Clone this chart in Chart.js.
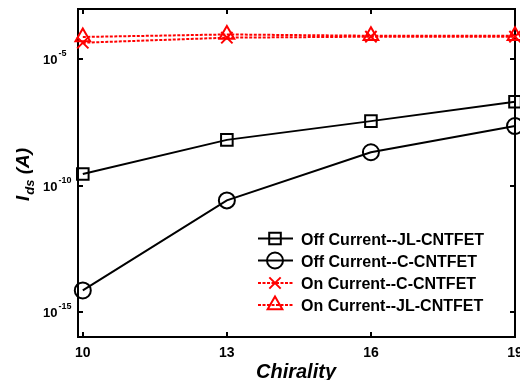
<!DOCTYPE html>
<html><head><meta charset="utf-8">
<script src="https://cdn.jsdelivr.net/npm/chart.js@4/dist/chart.umd.min.js"></script>
<style>html,body{margin:0;padding:0;background:#fff;}#wrap{width:520px;height:380px;position:relative}</style>
</head><body><div id="wrap"><canvas id="c" width="520" height="380"></canvas></div>
<script>
const chirality = [10, 13, 16, 19];
const offJL = [2.9e-10, 6.5e-9, 3.6e-8, 2.1e-7];
const offC = [7e-15, 2.6e-11, 2.1e-9, 2.3e-8];
const onC = [4.6e-5, 7.3e-5, 8.0e-5, 8.0e-5];
const onJL = [7.8e-5, 9.8e-5, 8.7e-5, 8.7e-5];
const xTicks = [10, 13, 16, 19];
const yTickExponents = [-5, -10, -15];
const seriesNames = ['Off Current--JL-CNTFET', 'Off Current--C-CNTFET', 'On Current--C-CNTFET', 'On Current--JL-CNTFET'];
const xTitle = 'Chirality';

const FONT = '"Liberation Sans", Arial, sans-serif';
const RED = '#ff0000';
const pts = arr => arr.map((v, i) => ({x: chirality[i], y: v}));

const styles = [
  {color: '#000', dash: [], point: 'rect', r: 8.2},
  {color: '#000', dash: [], point: 'circle', r: 8},
  {color: RED, dash: [3, 1.5], point: 'crossRot', r: 8},
  {color: RED, dash: [3, 1.5], point: 'triangle', r: 8.5}
];
const seriesData = [offJL, offC, onC, onJL];

const datasets = seriesData.map((d, i) => ({
  label: seriesNames[i],
  data: pts(d),
  borderColor: styles[i].color,
  backgroundColor: 'rgba(0,0,0,0)',
  borderWidth: 2,
  borderDash: styles[i].dash,
  pointStyle: styles[i].point,
  pointRadius: styles[i].r,
  pointBorderWidth: 2,
  pointBorderColor: styles[i].color,
  pointBackgroundColor: 'rgba(0,0,0,0)',
  tension: 0,
  clip: false
}));

function drawMarker(ctx, style, x, y, r, color) {
  ctx.save();
  ctx.strokeStyle = color; ctx.lineWidth = 2; ctx.setLineDash([]);
  ctx.beginPath();
  if (style === 'rect') {
    const s = r * Math.SQRT1_2;
    ctx.rect(x - s, y - s, 2 * s, 2 * s);
  } else if (style === 'circle') {
    ctx.arc(x, y, r, 0, Math.PI * 2);
  } else if (style === 'crossRot') {
    const s = r * Math.SQRT1_2;
    ctx.moveTo(x - s, y - s); ctx.lineTo(x + s, y + s);
    ctx.moveTo(x - s, y + s); ctx.lineTo(x + s, y - s);
  } else if (style === 'triangle') {
    ctx.moveTo(x, y - r);
    ctx.lineTo(x + r * Math.sin(Math.PI / 3), y + r * 0.5);
    ctx.lineTo(x - r * Math.sin(Math.PI / 3), y + r * 0.5);
    ctx.closePath();
  }
  ctx.stroke();
  ctx.restore();
}

const framePlugin = {
  id: 'frame',
  beforeDatasetsDraw(chart) {
    const ctx = chart.ctx, ca = chart.chartArea;
    const xs = chart.scales.x, ys = chart.scales.y;
    ctx.save();
    ctx.strokeStyle = '#000'; ctx.lineWidth = 2;
    ctx.strokeRect(ca.left, ca.top, ca.right - ca.left, ca.bottom - ca.top);
    ctx.beginPath();
    xTicks.forEach(v => {
      const px = Math.round(xs.getPixelForValue(v));
      ctx.moveTo(px, ca.bottom); ctx.lineTo(px, ca.bottom - 5);
      ctx.moveTo(px, ca.top); ctx.lineTo(px, ca.top + 5);
    });
    yTickExponents.forEach(e => {
      const py = Math.round(ys.getPixelForValue(Math.pow(10, e)));
      ctx.moveTo(ca.left, py); ctx.lineTo(ca.left + 5, py);
      ctx.moveTo(ca.right, py); ctx.lineTo(ca.right - 5, py);
    });
    ctx.stroke();
    ctx.restore();
  },
  afterDraw(chart) {
    const ctx = chart.ctx;
    const xs = chart.scales.x, ys = chart.scales.y;
    ctx.save();
    ctx.fillStyle = '#000';
    // x tick labels
    ctx.font = 'bold 14px ' + FONT;
    ctx.textAlign = 'center'; ctx.textBaseline = 'alphabetic';
    xTicks.forEach(v => {
      ctx.fillText(String(v), xs.getPixelForValue(v), 357);
    });
    // y tick labels 10^e
    yTickExponents.forEach(e => {
      const py = ys.getPixelForValue(Math.pow(10, e));
      ctx.textAlign = 'left';
      ctx.font = 'bold 13px ' + FONT;
      ctx.fillText('10', 43, py + 5);
      const w = ctx.measureText('10').width;
      ctx.font = 'bold 9px ' + FONT;
      ctx.fillText(String(e), 43 + w + 1, py - 3);
    });
    // x title
    ctx.font = 'italic bold 20px ' + FONT;
    ctx.textAlign = 'center';
    ctx.fillText(xTitle, 296, 378);
    // y title I_ds (A)
    ctx.save();
    ctx.translate(29, 201);
    ctx.rotate(-Math.PI / 2);
    ctx.textAlign = 'left';
    ctx.font = 'italic bold 19px ' + FONT;
    ctx.fillText('I', 0, 0);
    let x = ctx.measureText('I').width + 1;
    ctx.font = 'italic bold 13px ' + FONT;
    ctx.fillText('ds', x, 5);
    x += ctx.measureText('ds').width;
    ctx.font = 'italic bold 19px ' + FONT;
    ctx.fillText(' (A)', x, 0);
    ctx.restore();
    // legend
    const rows = [238.5, 260.5, 283, 305];
    seriesNames.forEach((name, i) => {
      const y = rows[i], st = styles[i];
      ctx.save();
      ctx.strokeStyle = st.color; ctx.lineWidth = 2; ctx.setLineDash(st.dash);
      ctx.beginPath(); ctx.moveTo(258, y); ctx.lineTo(293, y); ctx.stroke();
      ctx.restore();
      drawMarker(ctx, st.point, 275, y, st.r, st.color);
      ctx.fillStyle = '#000';
      ctx.font = 'bold 16px ' + FONT;
      ctx.textAlign = 'left';
      ctx.fillText(name, 301, y + 6);
    });
    ctx.restore();
  }
};

new Chart(document.getElementById('c'), {
  type: 'line',
  data: {datasets},
  options: {
    responsive: false,
    animation: false,
    devicePixelRatio: 1,
    layout: {autoPadding: false, padding: {left: 78, right: 5, top: 9, bottom: 43}},
    plugins: {legend: {display: false}, tooltip: {enabled: false}},
    scales: {
      x: {type: 'linear', min: 9.9, max: 19,
          afterFit: s => { s.height = 0; s.paddingLeft = 0; s.paddingRight = 0; },
          ticks: {display: false}, grid: {display: false}, border: {display: false}},
      y: {type: 'logarithmic', min: 1e-16, max: 1e-3,
          afterFit: s => { s.width = 0; s.paddingTop = 0; s.paddingBottom = 0; },
          ticks: {display: false}, grid: {display: false}, border: {display: false}}
    }
  },
  plugins: [framePlugin]
});
</script>
</body></html>
